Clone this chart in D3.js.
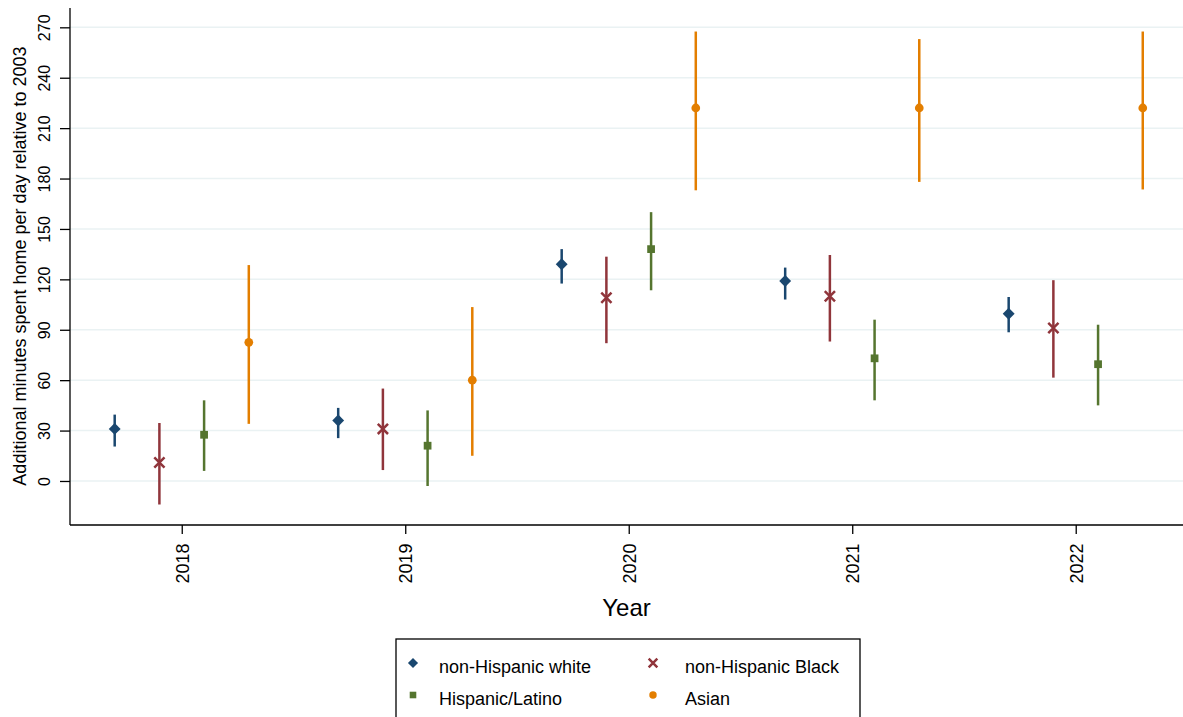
<!DOCTYPE html>
<html>
<head>
<meta charset="utf-8">
<script src="https://cdn.jsdelivr.net/npm/d3@7"></script>
<style>
  body { margin: 0; background: #fff; }
  text { font-family: "Liberation Sans", Arial, sans-serif; }
</style>
</head>
<body>
<div id="chart"></div>
<script>
var years = [2018, 2019, 2020, 2021, 2022];
var groups = ["non-Hispanic white", "non-Hispanic Black", "Hispanic/Latino", "Asian"];
var groupOffsets = [-0.3, -0.1, 0.1, 0.3];
var groupColors = ["#1a476f", "#90353b", "#55752f", "#e37e00"];
var groupSymbols = ["diamond", "cross", "square", "circle"];

// estimates and 95% CI per group, one value per year
var whiteEst = [31, 36, 129, 119, 99.5];
var whiteLo = [20.5, 25.5, 117.5, 108, 88.5];
var whiteHi = [39.5, 43.5, 138, 127, 109.5];
var blackEst = [11, 31, 109, 110, 91];
var blackLo = [-14, 6.5, 82, 83, 61.5];
var blackHi = [34.5, 55, 133.5, 134.5, 119.5];
var hispEst = [27.5, 21, 138, 73, 69.5];
var hispLo = [6, -3, 113.5, 48, 45];
var hispHi = [48, 42, 160, 96, 93];
var asianEst = [82.5, 60, 222, 222, 222];
var asianLo = [34, 15, 173, 178, 173.5];
var asianHi = [128.5, 103.5, 267.5, 263, 267.5];

var yTicks = [0, 30, 60, 90, 120, 150, 180, 210, 240, 270];

var est = [whiteEst, blackEst, hispEst, asianEst];
var lo = [whiteLo, blackLo, hispLo, asianLo];
var hi = [whiteHi, blackHi, hispHi, asianHi];

var points = [];
groups.forEach((g, gi) => {
    years.forEach((yr, yi) => {
        points.push({ group: gi, year: yr, est: est[gi][yi], lo: lo[gi][yi], hi: hi[gi][yi] });
    });
});

var width = 1183, height = 717;
var margin = { left: 70, right: 0, top: 8, bottom: 192 };

var svg = d3.select('#chart')
  .append('svg')
    .attr('width', width)
    .attr('height', height);

var x = d3.scaleLinear()
    .domain([2017.5, 2022.48])
    .range([margin.left, width - margin.right]);

var y = d3.scaleLinear()
    .domain([-26.2, 281.5])
    .range([height - margin.bottom, margin.top]);

// gridlines
svg.append('g')
  .selectAll('line')
  .data(yTicks)
  .enter()
  .append('line')
    .attr('x1', margin.left)
    .attr('x2', width - margin.right)
    .attr('y1', d => y(d))
    .attr('y2', d => y(d))
    .attr('stroke', '#eaf2f3')
    .attr('stroke-width', 1.5);

// y axis
var yAxis = svg.append('g')
    .attr('transform', `translate(${margin.left},0)`)
    .call(d3.axisLeft(y).tickValues(yTicks).tickSize(10).tickPadding(4));
yAxis.select('.domain').attr('stroke', '#000').attr('stroke-width', 1.3)
    .attr('d', `M0,${y.range()[1]}V${y.range()[0]}`);
yAxis.selectAll('.tick line').attr('stroke', '#000').attr('stroke-width', 1.3);
yAxis.selectAll('.tick text')
    .attr('font-size', 16)
    .attr('fill', '#000')
    .attr('transform', 'rotate(-90)')
    .attr('x', 0)
    .attr('y', -20)
    .attr('dy', 0)
    .attr('text-anchor', 'middle');

// x axis
var xAxis = svg.append('g')
    .attr('transform', `translate(0,${height - margin.bottom})`)
    .call(d3.axisBottom(x).tickValues(years).tickFormat(d3.format('d')).tickSize(9).tickPadding(4));
xAxis.select('.domain').attr('stroke', '#000').attr('stroke-width', 1.3)
    .attr('d', `M${x.range()[0]},0H${x.range()[1]}`);
xAxis.selectAll('.tick line').attr('stroke', '#000').attr('stroke-width', 1.3);
xAxis.selectAll('.tick text')
    .attr('font-size', 18)
    .attr('fill', '#000')
    .attr('transform', 'rotate(-90)')
    .attr('x', -38.5)
    .attr('y', 0)
    .attr('dy', '0.35em')
    .attr('text-anchor', 'middle');

// axis titles
svg.append('text')
    .attr('x', (x.range()[0] + x.range()[1]) / 2)
    .attr('y', 616)
    .attr('text-anchor', 'middle')
    .attr('font-size', 24)
    .text('Year');

svg.append('text')
    .attr('transform', `translate(26,266) rotate(-90)`)
    .attr('text-anchor', 'middle')
    .attr('font-size', 18)
    .text('Additional minutes spent home per day relative to 2003');

// confidence intervals
svg.append('g')
  .selectAll('line')
  .data(points)
  .enter()
  .append('line')
    .attr('x1', d => x(d.year + groupOffsets[d.group]))
    .attr('x2', d => x(d.year + groupOffsets[d.group]))
    .attr('y1', d => y(d.lo))
    .attr('y2', d => y(d.hi))
    .attr('stroke', d => groupColors[d.group])
    .attr('stroke-width', 2.5);

function symbolPath(gi, scale) {
    var k = scale || 1;
    if (groupSymbols[gi] == 'diamond') return d3.symbol(d3.symbolDiamond2, 90 * k * k)();
    if (groupSymbols[gi] == 'square') return d3.symbol(d3.symbolSquare, 60 * k * k)();
    if (groupSymbols[gi] == 'circle') return d3.symbol(d3.symbolCircle, 60 * k * k)();
    return d3.symbol(d3.symbolTimes, 70 * k * k)();
}

function drawMarker(sel, gi, scale) {
    var path = sel.append('path')
        .attr('d', symbolPath(gi, scale));
    if (groupSymbols[gi] == 'cross') {
        path.attr('fill', 'none')
            .attr('stroke', groupColors[gi])
            .attr('stroke-width', 2.5);
    } else {
        path.attr('fill', groupColors[gi]);
    }
}

svg.append('g')
  .selectAll('g')
  .data(points)
  .enter()
  .append('g')
    .attr('transform', d => `translate(${x(d.year + groupOffsets[d.group])},${y(d.est)})`)
    .each(function(d) { drawMarker(d3.select(this), d.group, 1); });

// legend
var legend = svg.append('g');
legend.append('rect')
    .attr('x', 396)
    .attr('y', 639)
    .attr('width', 464)
    .attr('height', 100)
    .attr('fill', '#fff')
    .attr('stroke', '#000')
    .attr('stroke-width', 1.3);

var legendPos = [[413, 663], [653, 663], [413, 695], [653, 695]];
groups.forEach((g, gi) => {
    var item = legend.append('g')
        .attr('transform', `translate(${legendPos[gi][0]},${legendPos[gi][1]})`);
    drawMarker(item, gi, 0.85);
    item.append('text')
        .attr('x', gi % 2 == 0 ? 26 : 32)
        .attr('y', 10)
        .attr('font-size', 18)
        .text(g);
});
</script>
</body>
</html>
